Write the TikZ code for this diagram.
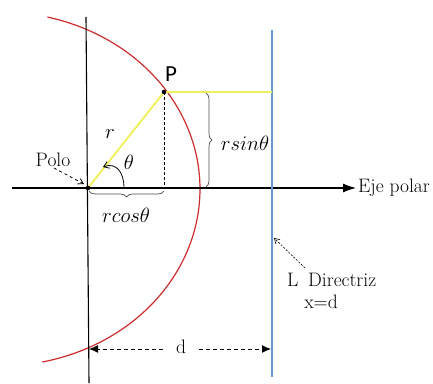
\documentclass[tikz,border=0pt]{standalone}
\usepackage{fontspec}
\newfontfamily\sansP{Carlito}
\usetikzlibrary{arrows.meta,decorations.pathreplacing}
\definecolor{arcred}{RGB}{205,45,45}
\definecolor{ylw}{RGB}{240,240,90}
\definecolor{dirblue}{RGB}{100,155,210}
\begin{document}
\begin{tikzpicture}[x=1pt,y=-1pt,
  txt/.style={inner sep=0pt,font=\fontsize{19.5}{22}\selectfont},
  mth/.style={inner sep=0pt,font=\fontsize{21.5}{24}\selectfont},
  axisline/.style={line width=1.1pt,black},
  bracestyle/.style={decorate,decoration={brace,amplitude=6pt},gray!60!black,line width=0.7pt},
  ptr/.style={dashed,line width=0.8pt,-{Straight Barb[length=5pt,width=6pt]}},
  ddim/.style={dashed,line width=1pt,dash pattern=on 4pt off 3pt,-{Latex[length=9pt,width=8pt]}}]
\useasboundingbox (0,0) rectangle (433,383);
% coordinates
\coordinate (O) at (88,188);
\coordinate (P) at (164,92);
\coordinate (axL) at (12,188);
\coordinate (axR) at (356,188);
\coordinate (vT) at (86,17);
\coordinate (vB) at (89,383);
\coordinate (bT) at (272,30);
\coordinate (bB) at (272,377);
\coordinate (Pr) at (272,92);
\coordinate (Pf) at (164,188);
% red curve
\draw[arcred,line width=1.2pt,domain=-76.3:77.8,samples=120,smooth] plot ({200*cos(\x)},{189+177*sin(\x)});
% axes
\draw[axisline] (vT) -- (vB);
\draw[axisline,-{Latex[length=13pt,width=9pt]}] (axL) -- (axR);
\draw[dirblue,line width=1.1pt] (bT) -- (bB);
% yellow
\draw[ylw,line width=1.9pt] (O) -- (P) -- (Pr);
% dashed projection
\draw[dashed,line width=1pt,dash pattern=on 3pt off 2pt] (P) -- (Pf);
% braces
\draw[bracestyle] (164,191) -- (89,191);
\draw[bracestyle] (206,93) -- (206,187);
% dots
\fill (O) circle (2.3);
\fill (P) circle (2.3);
% labels
\node[inner sep=0pt,font=\sansP\fontsize{23}{25}\selectfont] (Plab) at (171,74) {P};
\node[mth] (rlab) at (110,134) {$r$};
\node[mth] (thlab) at (129,162) {$\theta$};
\node[mth] (rcos) at (126,215) {$rcos\theta$};
\node[mth] (rsin) at (245,143) {$rsin\theta$};
\node[txt,anchor=west] (eje) at (358,188) {Eje polar};
\node[txt] (polo) at (53,160) {Polo};
\node[txt,anchor=west] (dir) at (287,280) {L\enspace Directriz};
\node[txt] (xd) at (321,302) {x=d};
\node[txt] (dlab) at (181,347) {d};
% angle arrow
\coordinate (aS) at (124,188);
\coordinate (aE) at (103,167);
\draw[line width=0.8pt,-{Straight Barb[length=5pt,width=7pt]}] (aS) .. controls (124,172) and (116,162) .. (aE);
% pointers
\draw[ptr] (54,168) -- (84,184);
\draw[ptr,dash pattern=on 2pt off 1.5pt,line width=0.6pt] (305,268) -- (274,238);
% distance d
\coordinate (dL) at (89,349);
\coordinate (dR) at (271,349);
\draw[ddim] (163,349) -- (dL);
\draw[ddim] (199,349) -- (dR);
\end{tikzpicture}
\end{document}
